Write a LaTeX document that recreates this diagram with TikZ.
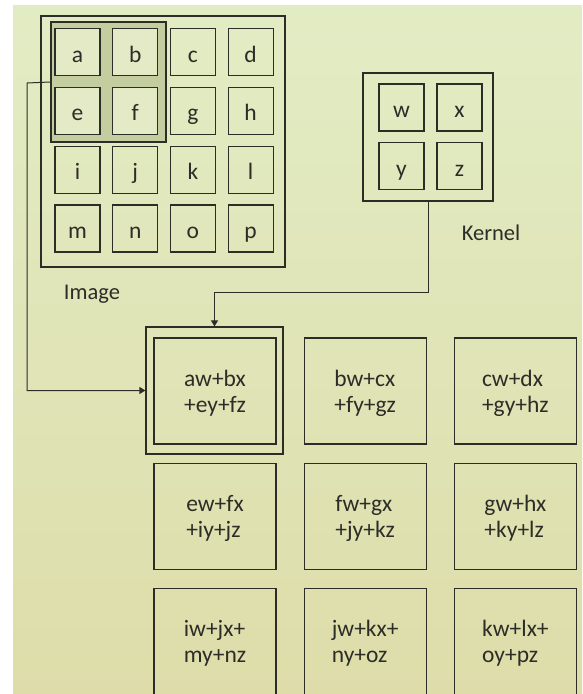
\documentclass[tikz,border=0pt]{standalone}
\usepackage{fontspec}
\setmainfont{Carlito}
\usetikzlibrary{arrows.meta,positioning}
\definecolor{bgtop}{RGB}{226,236,196}
\definecolor{bgmid}{RGB}{240,244,200}
\definecolor{bgbot}{RGB}{222,221,170}
\definecolor{hlfill}{RGB}{196,205,160}
\definecolor{cellfill}{RGB}{228,234,198}
\definecolor{ink}{RGB}{45,45,40}

\begin{document}
\begin{tikzpicture}[
    x=1pt, y=-1pt,
    cell/.style={rectangle, draw=ink, line width=1.2pt, minimum width=45pt, minimum height=47pt, inner sep=0pt, text height=22pt, text depth=2pt, font=\fontsize{23.5}{26}\selectfont, text=ink},
    holder/.style={rectangle, draw=ink, line width=1.2pt, inner sep=0pt},
    result/.style={rectangle, draw=ink, line width=1.2pt, minimum width=122pt, minimum height=106pt, align=left, text depth=0pt, font=\fontsize{23.5}{26}\selectfont, text=ink},
    boxlabel/.style={font=\fontsize{22.5}{26}\selectfont, text=ink},
    arrow/.style={-{Triangle[length=6pt,width=7pt]}, draw=ink, line width=1pt}
]
\useasboundingbox (0,0) rectangle (582,694);
\fill[white] (0,0) rectangle (582,694);
\shade[top color=bgtop, middle color=bgmid, bottom color=bgbot] (13,5) rectangle (582,694);

% input image with the window under the kernel
\node[holder, minimum width=244pt, minimum height=251pt] (img) at (163,141.5) {};
\node[holder, line width=1.8pt, fill=hlfill, minimum width=115pt, minimum height=120pt] (hl) at (108.5,82) {};
\foreach \t/\c/\r/\f in {a/0/0/cellfill, b/1/0/cellfill, c/2/0/none, d/3/0/none,
                         e/0/1/cellfill, f/1/1/cellfill, g/2/1/none, h/3/1/none,
                         i/0/2/none, j/1/2/none, k/2/2/none, l/3/2/none,
                         m/0/3/none, n/1/3/none, o/2/3/none, p/3/3/none}
    \node[cell, fill=\f] (\t) at ({77.5+57.7*\c},{52+58.8*\r}) {\t};
\node[boxlabel] (imgname) at (92,294) {Image};

% kernel
\node[holder, minimum width=130pt, minimum height=128pt] (kern) at (428,137) {};
\foreach \t/\c/\r in {w/0/0, x/1/0, y/0/1, z/1/1}
    \node[cell] (k\t) at ({401.5+58*\c},{107.5+58.5*\r}) {\t};
\node[boxlabel] (kername) at (491,233) {Kernel};

% output feature map
\node[holder, minimum width=137pt, minimum height=127pt] (win) at (214.5,390.5) {};
\node[result] (out1) at (215,391) {aw+bx\\+ey+fz};
\node[result, right=27pt of out1] (out2) {bw+cx\\+fy+gz};
\node[result, right=27pt of out2] (out3) {cw+dx\\+gy+hz};
\node[result, below=18pt of out1] (out4) {ew+fx\\+iy+jz};
\node[result, right=27pt of out4] (out5) {fw+gx\\+jy+kz};
\node[result, right=27pt of out5] (out6) {gw+hx\\+ky+lz};
\node[result, below=18pt of out4] (out7) {iw+jx+\\my+nz};
\node[result, right=27pt of out7] (out8) {jw+kx+\\ny+oz};
\node[result, right=27pt of out8] (out9) {kw+lx+\\oy+pz};

\coordinate (bendA) at (27,83);
\coordinate (bendB) at (428,292);
\draw[arrow] (hl.west) -- (bendA) |- (win.west);
\draw[arrow] (kern.south) -- (bendB) -| (win.north);
\end{tikzpicture}
\end{document}
